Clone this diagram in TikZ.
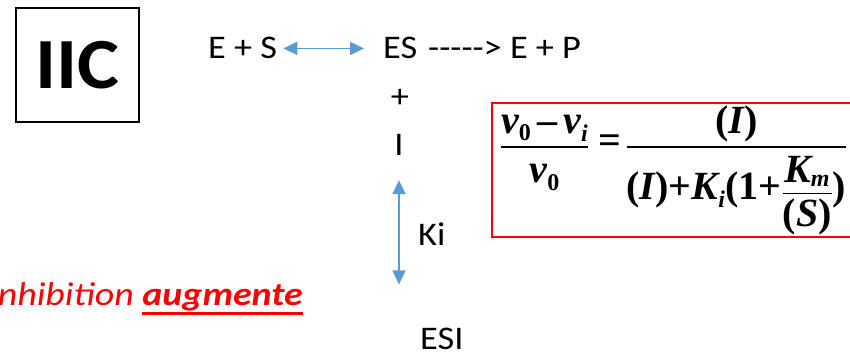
\documentclass[tikz,border=0pt]{standalone}
\usepackage{fontspec}
\setmainfont{Carlito}[FakeStretch=1.1]
\newfontfamily\notefont{Carlito}[FakeStretch=1.15]
\newfontfamily\tnr{Liberation Serif}
\usetikzlibrary{arrows.meta}
\definecolor{arrowblue}{HTML}{5B9BD5}
\definecolor{framered}{HTML}{FF0000}
% bold Times-like pieces for the rate equation
\newcommand\tmb[1]{\mbox{\tnr\fontsize{40}{45}\selectfont\bfseries #1}}
\newcommand\tmbi[1]{\mbox{\tnr\fontsize{40}{45}\selectfont\bfseries\itshape #1}}
\newcommand\tsb[1]{\mbox{\tnr\fontsize{24}{28}\selectfont\bfseries #1}}
\newcommand\tsbi[1]{\mbox{\tnr\fontsize{24}{28}\selectfont\bfseries\itshape #1}}
% thick underline set a little below the baseline
\newcommand\thickul[1]{\setbox0\hbox{#1}\rlap{\rule[-10pt]{\wd0}{2.6pt}}\box0}
\newsavebox\ratebox
\tikzset{
  chem/.style={inner sep=0pt, font=\fontsize{33}{38}\selectfont},
  dblarrow/.style={draw=arrowblue, line width=1.6pt,
    {Triangle[length=14pt,width=13pt]}-{Triangle[length=14pt,width=13pt]}},
  titlebox/.style={draw, line width=1.8pt, inner sep=0pt,
    minimum width=123pt, minimum height=114pt,
    font=\fontsize{72}{80}\selectfont\bfseries},
  redframe/.style={draw=framered, line width=2pt, inner xsep=8pt, inner ysep=0pt,
    minimum height=134pt},
  note/.style={inner sep=0pt, text=framered,
    font=\notefont\fontsize{33}{40}\selectfont\itshape}
}
\begin{document}
\sbox\ratebox{\fontsize{40}{45}\selectfont$\displaystyle
  {\tmbi{v}_{\tsb{0}}\hspace{6pt}\tmb{\textendash}\hspace{6pt}\tmbi{v}_{\tsbi{i}}\rule[-5pt]{0pt}{5pt}
    \above 1.6pt \rule{0pt}{30pt}\tmbi{v}_{\tsb{0}}}
  \hspace{9pt}\tmb{=}\hspace{4pt}
  {\tmb{(}\tmbi{I}\tmb{)}
    \above 1.6pt
   \tmb{(}\tmbi{I}\tmb{)}\tmb{+}\tmbi{K}_{\tsbi{i}}\tmb{(1+}%
   {\displaystyle{\rule{0pt}{30pt}\tmbi{K}_{\tsbi{m}} \above 1.4pt \tmb{(}\tmbi{S}\tmb{)}}}\tmb{)}}$}%
\begin{tikzpicture}[x=1pt,y=-1pt]
\useasboundingbox (0,0) rectangle (850,353);
\clip (0,0) rectangle (850,353);

% section label
\node[titlebox] (title) at (77.5,65) {IIC};

% reaction scheme
\node[chem, anchor=base west] (es1) at (208,59) {E + S};
\node[chem, anchor=base west] (es) at (383,59) {ES};
\node[chem, anchor=base west] (prod) at (428,59) {-{}-{}-{}-{}-{}> E + P};
\draw[dblarrow] ([xshift=6pt]es1.east) -- ([xshift=-19pt]es.west);

% inhibitor binding
\node[chem] (plus) at (400,98) {+};
\node[chem, anchor=base] (inh) at (399,155) {I};
\node[chem, anchor=base west] (ki) at (418,245) {Ki};
\node[chem, anchor=base west] (esi) at (420,349) {ESI};
\coordinate (armend) at (inh.south |- esi.north);
\draw[dblarrow] ([yshift=-25pt]inh.south) -- ([yshift=43pt]armend);

% rate equation (its frame runs on past the right edge)
\node[redframe, anchor=west] (rate) at (491,170) {\usebox\ratebox\hspace{24pt}};

% conclusion
\node[note, anchor=base east] (concl) at (303,305) {inhibition \textbf{\thickul{augmente}}};
\end{tikzpicture}
\end{document}
